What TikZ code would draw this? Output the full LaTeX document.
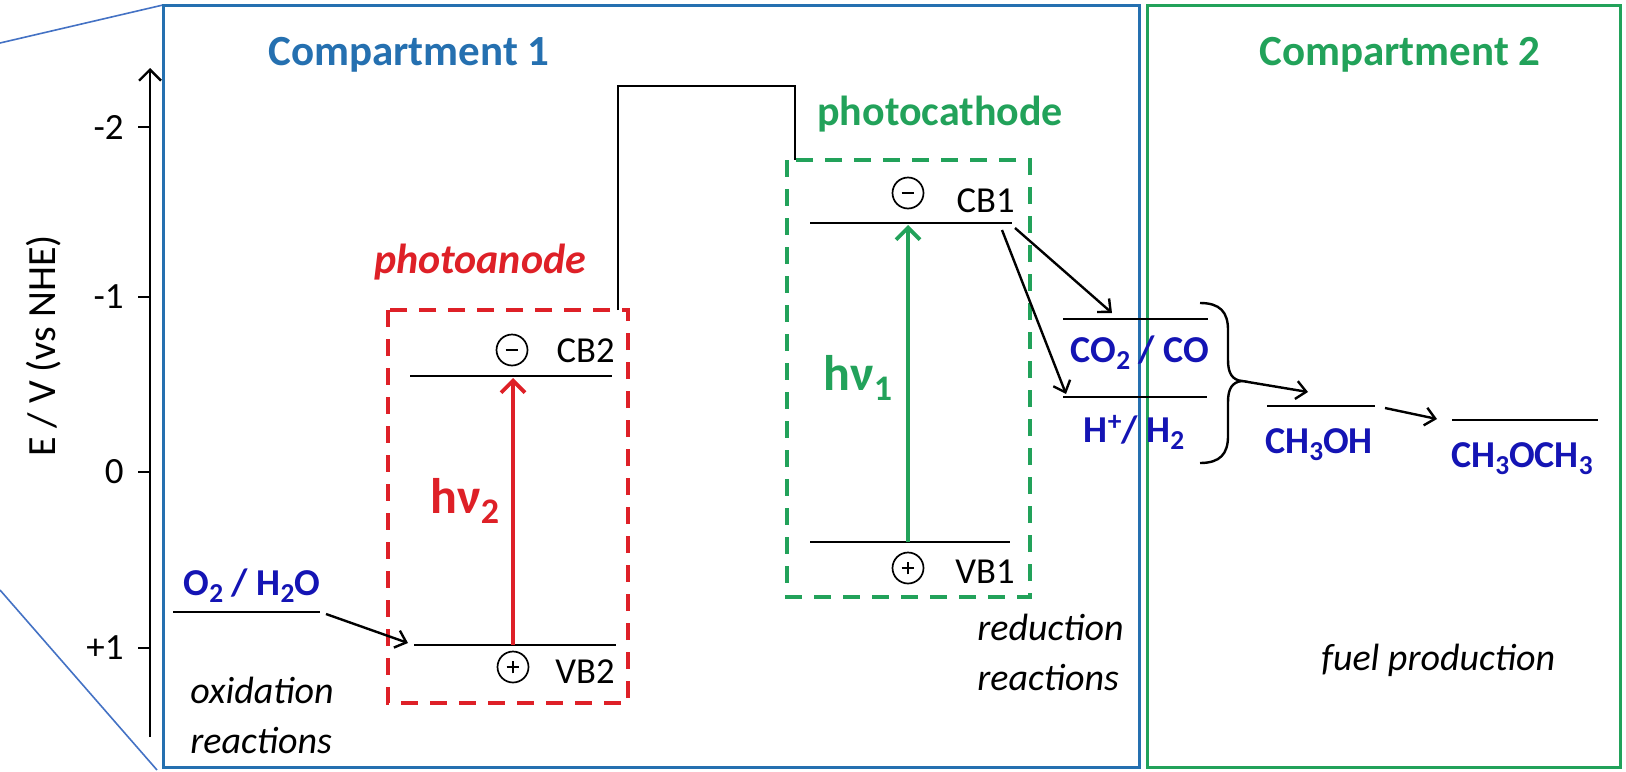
\documentclass[tikz,border=0pt]{standalone}
\usepackage{fontspec}
\usepackage{graphicx}
\setmainfont{Carlito}
\usetikzlibrary{arrows.meta}
\definecolor{cblue}{HTML}{2570B0}
\definecolor{cgreen}{HTML}{22A25A}
\definecolor{cred}{HTML}{DE2027}
\definecolor{fblue}{HTML}{1414B4}
\definecolor{thinblue}{HTML}{4472C4}
\newcommand\mysub[1]{\raisebox{-0.42ex}{\scalebox{0.72}{#1}}}
\newcommand\mysup[1]{\raisebox{0.62ex}{\scalebox{0.72}{#1}}}
\tikzset{
  thinline/.style={draw=thinblue, line width=0.8pt},
  comp/.style={line width=1.5pt},
  title/.style={inner sep=0pt, font=\fontsize{21.5}{26}\selectfont\bfseries},
  plabel/.style={inner sep=0pt, font=\fontsize{21}{25}\selectfont\bfseries},
  hvlabel/.style={inner sep=0pt, font=\fontsize{25}{30}\selectfont\bfseries},
  lbl/.style={inner sep=0pt, font=\fontsize{18.3}{22}\selectfont},
  form/.style={inner sep=0pt, text=fblue, font=\fontsize{19}{23}\selectfont\bfseries},
  itl/.style={inner sep=0pt, font=\fontsize{19}{23}\selectfont\itshape},
  ticklbl/.style={inner sep=0pt, font=\fontsize{18.5}{22}\selectfont},
  ylab/.style={inner sep=0pt, font=\fontsize{20}{24}\selectfont},
  level/.style={line width=1.4pt},
  conn/.style={line width=1.2pt, -{Straight Barb[length=5pt,width=9pt]}},
  excite/.style={line width=1.9pt, -{Straight Barb[length=6pt,width=12pt]}},
  dbox/.style={line width=2.3pt, dash pattern=on 8.5pt off 6pt},
  sign/.style={circle, draw, line width=0.85pt, minimum size=15.5pt, inner sep=0pt},
  signbar/.style={line width=0.85pt},
}
\begin{document}
\begin{tikzpicture}[x=0.5pt,y=-0.5pt]
\useasboundingbox (0,0) rectangle (1626,771);
% thin zoom lines
\coordinate (tl0) at (0,43); \coordinate (c1tl) at (163,5);
\coordinate (bl0) at (0,590); \coordinate (c1bl) at (157,770);
\draw[thinline] (tl0) -- (c1tl);
\draw[thinline] (bl0) -- (c1bl);
% compartments
\draw[comp, draw=cblue] (163,5) rectangle (1139,767);
\draw[comp, draw=cgreen] (1147,5) rectangle (1620,767);
\node[title, text=cblue, anchor=base] (t1) at (409,65) {Compartment 1};
\node[title, text=cgreen, anchor=base] (t2) at (1400,65) {Compartment 2};
% axis
\coordinate (ax0) at (150,737); \coordinate (ax1) at (150,68);
\draw[line width=1.2pt, -{Straight Barb[length=5.5pt,width=11pt]}] (ax0) -- (ax1);
\foreach \yy/\ll [count=\i] in {127/-2, 297/-1, 472/0, 648/+1}{
  \coordinate (tk\i) at (150,\yy);
  \draw[line width=1.2pt] (tk\i) -- ++(-12,0);
  \node[ticklbl, anchor=east] (tl\i) at (124,\yy) {\ll};
}
\node[ylab, rotate=90, anchor=base] (ylab) at (55,346) {E / V (vs NHE)};
% dashed boxes
\draw[dbox, draw=cred] (388,310) rectangle (628,703);
\draw[dbox, draw=cgreen] (787,160) rectangle (1030,597);
\node[plabel, text=cred, anchor=base, font=\fontsize{21}{25}\selectfont\bfseries\itshape] (pan) at (480,273) {photoanode};
\node[plabel, text=cgreen, anchor=base] (pca) at (940,125) {photocathode};
% wire
\coordinate (w1) at (618,310); \coordinate (w2) at (795,160);
\draw[line width=1.2pt] (w1) -- ++(0,-224) -| (w2);
% photoanode levels
\coordinate (cb2a) at (410,376); \coordinate (cb2b) at (612,376);
\coordinate (vb2a) at (414,645); \coordinate (vb2b) at (616,645);
\draw[level] (cb2a) -- (cb2b);
\draw[level] (vb2a) -- (vb2b);
\coordinate (vb2m) at (513,645); \coordinate (cb2m) at (513,378);
\draw[excite, draw=cred] (vb2m) -- (cb2m);
\node[hvlabel, text=cred, anchor=base west] (hv2) at (430,513) {hν\mysub{2}};
\node[sign] (e2) at (512,350) {};
\draw[signbar] ([xshift=-3.2pt]e2.center) -- ([xshift=3.2pt]e2.center);
\node[sign] (h2) at (513,667) {};
\draw[signbar] ([xshift=-3.2pt]h2.center) -- ([xshift=3.2pt]h2.center);
\draw[signbar] ([yshift=-3.2pt]h2.center) -- ([yshift=3.2pt]h2.center);
\node[lbl, anchor=base east] (cb2t) at (615,362) {CB2};
\node[lbl, anchor=base east] (vb2t) at (615,683) {VB2};
% photocathode levels
\coordinate (cb1a) at (810,223); \coordinate (cb1b) at (1012,223);
\coordinate (vb1a) at (810,542); \coordinate (vb1b) at (1010,542);
\draw[level] (cb1a) -- (cb1b);
\draw[level] (vb1a) -- (vb1b);
\coordinate (vb1m) at (908,542); \coordinate (cb1m) at (908,225);
\draw[excite, draw=cgreen] (vb1m) -- (cb1m);
\node[hvlabel, text=cgreen, anchor=base west] (hv1) at (823,390) {hν\mysub{1}};
\node[sign] (e1) at (908,193) {};
\draw[signbar] ([xshift=-3.2pt]e1.center) -- ([xshift=3.2pt]e1.center);
\node[sign] (h1) at (908,568) {};
\draw[signbar] ([xshift=-3.2pt]h1.center) -- ([xshift=3.2pt]h1.center);
\draw[signbar] ([yshift=-3.2pt]h1.center) -- ([yshift=3.2pt]h1.center);
\node[lbl, anchor=base east] (cb1t) at (1015,212) {CB1};
\node[lbl, anchor=base east] (vb1t) at (1015,583) {VB1};
% oxidation
\coordinate (o2a) at (173,612); \coordinate (o2b) at (320,612);
\draw[level] (o2a) -- (o2b);
\node[form, anchor=base] (o2) at (252,595) {O\mysub{2} / H\mysub{2}O};
\coordinate (o2e) at (326,614); \coordinate (vb2in) at (408,643);
\draw[conn] (o2e) -- (vb2in);
\node[itl, anchor=base west] (ox1) at (190,703) {oxidation};
\node[itl, anchor=base west] (ox2) at (190,753) {reactions};
% reduction
\coordinate (co2a) at (1063,319); \coordinate (co2b) at (1208,319);
\coordinate (h2a) at (1063,397); \coordinate (h2b) at (1207,397);
\draw[level] (co2a) -- (co2b);
\draw[level] (h2a) -- (h2b);
\node[form, anchor=base] (co2) at (1140,362) {CO\mysub{2} / CO};
\node[form, anchor=base] (hh2) at (1134,442) {H\mysup{+}/ H\mysub{2}};
\coordinate (r1s) at (1015,228); \coordinate (r1e) at (1112,313);
\coordinate (r2s) at (1002,230); \coordinate (r2e) at (1066,394);
\draw[conn] (r1s) -- (r1e);
\draw[conn] (r2s) -- (r2e);
\node[itl, anchor=base west] (rd1) at (977,640) {reduction};
\node[itl, anchor=base west] (rd2) at (977,690) {reactions};
% brace
\coordinate (brtip) at (1242,381);
\draw[line width=1.2pt] (1200,303) .. controls (1220,303) and (1228,312) .. (1228,330)
  -- (1228,360) .. controls (1228,373) and (1232,380) .. (brtip)
  .. controls (1232,382) and (1228,389) .. (1228,402)
  -- (1228,436) .. controls (1228,454) and (1220,463) .. (1200,463);
\coordinate (ch3a) at (1267,406); \coordinate (ch3b) at (1375,406);
\draw[level] (ch3a) -- (ch3b);
\coordinate (brend) at (1308,392);
\draw[conn] (brtip) -- (brend);
\node[form, anchor=base] (meoh) at (1319,453) {CH\mysub{3}OH};
\coordinate (dm1) at (1385,408); \coordinate (dm2) at (1437,419);
\draw[conn] (dm1) -- (dm2);
\coordinate (dmea) at (1452,420); \coordinate (dmeb) at (1598,420);
\draw[level] (dmea) -- (dmeb);
\node[form, anchor=base] (dme) at (1522,467) {CH\mysub{3}OCH\mysub{3}};
\node[itl, anchor=base west] (fuel) at (1321,670) {fuel production};
\end{tikzpicture}
\end{document}
